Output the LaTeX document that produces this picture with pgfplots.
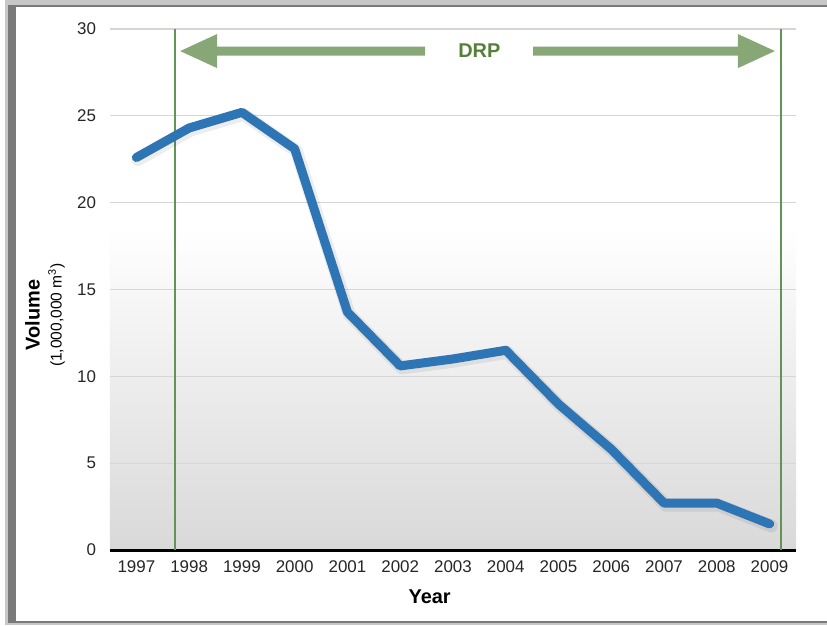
\documentclass[border=0pt]{standalone}
\usepackage{fontspec}
\setmainfont{Liberation Sans}
\usepackage{pgfplots}
\pgfplotsset{compat=1.18}

\definecolor{lineblue}{RGB}{46,117,182}
\definecolor{arrowgreen}{RGB}{135,168,118}
\definecolor{markgreen}{RGB}{98,148,84}
\definecolor{textgreen}{RGB}{84,128,58}

% plot area: light grey at the base fading to white by about two thirds up
\pgfdeclareverticalshading{plotbg}{100bp}{color(0bp)=(black!15); color(25bp)=(black!15);
  color(56bp)=(white); color(75bp)=(white); color(100bp)=(white)}

\begin{document}
\begin{tikzpicture}
% outer frame with shadowed edges
\useasboundingbox (-55bp,-38bp) rectangle (358.5bp,275bp);
\fill[black!22] (-52.5bp,-37.5bp) rectangle (360bp,275bp);
\fill[black!52] (-51bp,-36.6bp) rectangle (360bp,272.5bp);
\fill[white] (-47bp,-35.5bp) rectangle (360bp,271.5bp);

\begin{axis}[
  at={(0,0)}, anchor=south west,
  scale only axis, width=343bp, height=260.5bp,
  xmin=1996.5, xmax=2009.5, ymin=0, ymax=30,
  xtick={1997,...,2009}, ytick={0,5,...,30},
  axis lines*=left,
  y axis line style={draw=none},
  x axis line style={black, line width=1.5bp},
  major tick length=0pt,
  ymajorgrids, grid style={black!16, line width=0.6bp},
  axis background/.style={shading=plotbg},
  /pgf/number format/assume math mode=true,
  /pgf/number format/1000 sep={},
  tick label style={font=\fontsize{8.5}{10}\selectfont, text=black!85},
  yticklabel style={xshift=-3.5bp},
  xticklabel style={yshift=-2bp},
  every axis x label/.style={at={(axis description cs:0.466,-0.0902)}, anchor=center},
  every axis y label/.style={at={(axis description cs:-0.0948,0.451)}, rotate=90, anchor=center, align=center},
  xlabel={\fontsize{10}{12}\selectfont\bfseries Year},
  ylabel={{\fontsize{10}{11}\selectfont\bfseries Volume}\\[-1bp]{\fontsize{7.8}{9}\selectfont (1,000,000 m\textsuperscript{3})}},
  clip=false,
]
% DRP period markers
\draw[markgreen, line width=0.8bp] (axis cs:1997.73,0) -- (axis cs:1997.73,30);
\draw[markgreen, line width=0.8bp] (axis cs:2009.22,0) -- (axis cs:2009.22,30);
\fill[arrowgreen] (axis cs:1997.83,28.73) -- (axis cs:1998.53,29.71) -- (axis cs:1998.53,28.99)
  -- (axis cs:2002.47,28.99) -- (axis cs:2002.47,28.47) -- (axis cs:1998.53,28.47)
  -- (axis cs:1998.53,27.75) -- cycle;
\fill[arrowgreen] (axis cs:2009.10,28.73) -- (axis cs:2008.40,29.71) -- (axis cs:2008.40,28.99)
  -- (axis cs:2004.52,28.99) -- (axis cs:2004.52,28.47) -- (axis cs:2008.40,28.47)
  -- (axis cs:2008.40,27.75) -- cycle;
\node[text=textgreen, font=\fontsize{10}{12}\selectfont\bfseries] at (axis cs:2003.5,28.73) {DRP};

% soft shadow under the series
\addplot[black, opacity=0.07, line width=6.5bp, line join=round, line cap=round, forget plot,
  transform canvas={xshift=0.8bp, yshift=-1bp}]
  coordinates {(1997,22.6) (1998,24.3) (1999,25.2) (2000,23.1) (2001,13.7) (2002,10.6) (2003,11.0)
               (2004,11.5) (2005,8.4) (2006,5.8) (2007,2.7) (2008,2.7) (2009,1.5)};
\addplot[lineblue, line width=4.5bp, line join=round, line cap=round]
  coordinates {(1997,22.6) (1998,24.3) (1999,25.2) (2000,23.1) (2001,13.7) (2002,10.6) (2003,11.0)
               (2004,11.5) (2005,8.4) (2006,5.8) (2007,2.7) (2008,2.7) (2009,1.5)};
\end{axis}
\end{tikzpicture}
\end{document}
